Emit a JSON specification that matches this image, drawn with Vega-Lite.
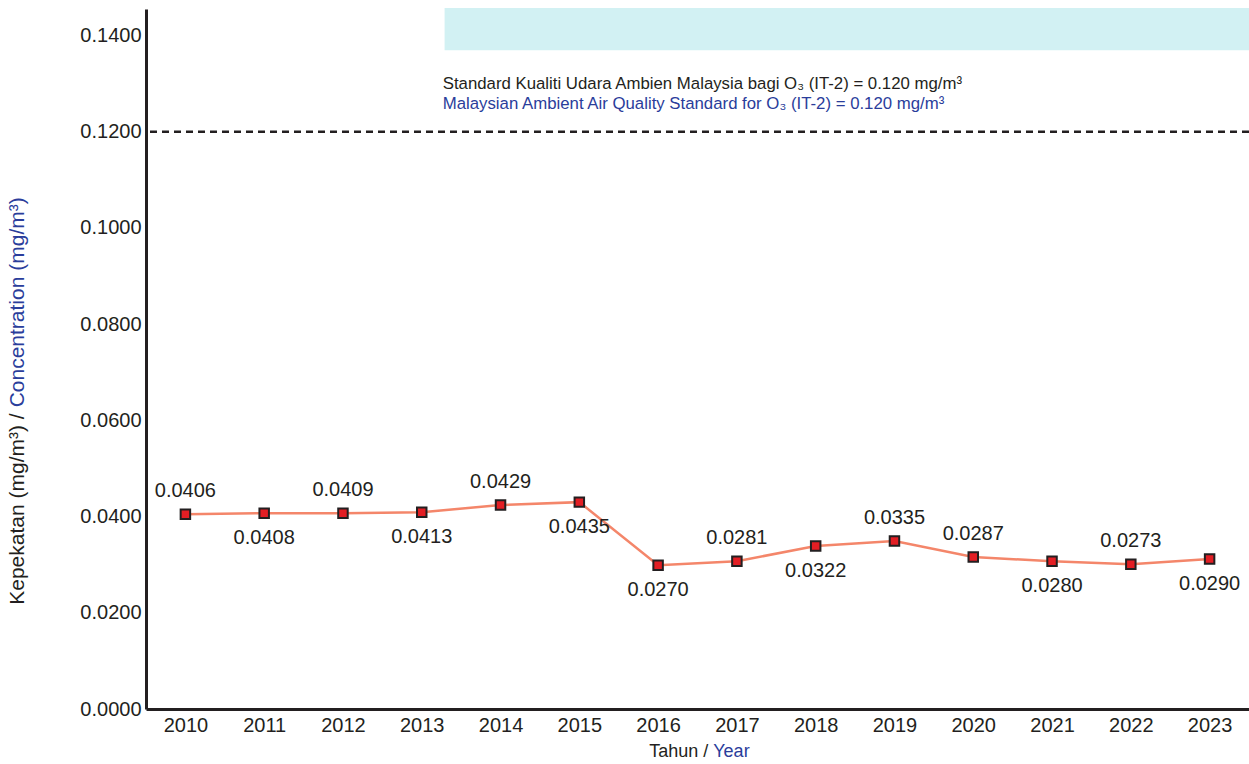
{
  "$schema": "https://vega.github.io/schema/vega-lite/v6.json",
  "width": 1103,
  "height": 700,
  "autosize": {"type": "none"},
  "padding": {"left": 146, "top": 9, "right": 0, "bottom": 55},
  "background": "white",
  "config": {"view": {"stroke": null}, "font": "Liberation Sans"},
  "datasets": {
    "series": [
      {"year": 2010, "value": 0.0405, "label": "0.0406", "side": "above"},
      {"year": 2011, "value": 0.0407, "label": "0.0408", "side": "below"},
      {"year": 2012, "value": 0.0407, "label": "0.0409", "side": "above"},
      {"year": 2013, "value": 0.0409, "label": "0.0413", "side": "below"},
      {"year": 2014, "value": 0.0424, "label": "0.0429", "side": "above"},
      {"year": 2015, "value": 0.0430, "label": "0.0435", "side": "below"},
      {"year": 2016, "value": 0.0299, "label": "0.0270", "side": "below"},
      {"year": 2017, "value": 0.0307, "label": "0.0281", "side": "above"},
      {"year": 2018, "value": 0.0339, "label": "0.0322", "side": "below"},
      {"year": 2019, "value": 0.0349, "label": "0.0335", "side": "above"},
      {"year": 2020, "value": 0.0316, "label": "0.0287", "side": "above"},
      {"year": 2021, "value": 0.0307, "label": "0.0280", "side": "below"},
      {"year": 2022, "value": 0.0301, "label": "0.0273", "side": "above"},
      {"year": 2023, "value": 0.0312, "label": "0.0290", "side": "below"}
    ]
  },
  "layer": [
    {
      "data": {"values": [{"year": 2013.29, "year2": 2023.5, "value": 0.1369, "value2": 0.1457}]},
      "mark": {"type": "rect", "color": "#d2f1f3"},
      "encoding": {
        "x": {"field": "year", "type": "quantitative", "scale": {"domain": [2009.5, 2023.5], "nice": false, "zero": false},
          "axis": {"values": [2010, 2011, 2012, 2013, 2014, 2015, 2016, 2017, 2018, 2019, 2020, 2021, 2022, 2023], "format": "d", "title": null, "grid": false, "ticks": false, "domainColor": "#231f20", "domainWidth": 3, "labelFontSize": 20, "labelColor": "#231f20", "labelPadding": 6, "labelFont": "Liberation Sans"}},
        "x2": {"field": "year2"},
        "y": {"field": "value", "type": "quantitative", "scale": {"domain": [0, 0.1455], "nice": false},
          "axis": {"values": [0, 0.02, 0.04, 0.06, 0.08, 0.1, 0.12, 0.14], "format": ".4f", "title": null, "grid": false, "ticks": false, "domainColor": "#231f20", "domainWidth": 3, "labelFontSize": 20, "labelColor": "#231f20", "labelPadding": 5, "labelFont": "Liberation Sans"}},
        "y2": {"field": "value2"}
      }
    },
    {
      "data": {"values": [{"value": 0.12}]},
      "mark": {"type": "rule", "color": "#231f20", "strokeWidth": 2.5, "strokeDash": [7, 5]},
      "encoding": {"y": {"field": "value", "type": "quantitative"}}
    },
    {
      "data": {"values": [{"year": 2013.266, "value": 0.1300, "t": "Standard Kualiti Udara Ambien Malaysia bagi O₃ (IT-2) = 0.120 mg/m³"}]},
      "mark": {"type": "text", "align": "left", "baseline": "middle", "fontSize": 16.8, "color": "#231f20"},
      "encoding": {
        "x": {"field": "year", "type": "quantitative"},
        "y": {"field": "value", "type": "quantitative"},
        "text": {"field": "t"}
      }
    },
    {
      "data": {"values": [{"year": 2013.266, "value": 0.1257, "t": "Malaysian Ambient Air Quality Standard for O₃ (IT-2) = 0.120 mg/m³"}]},
      "mark": {"type": "text", "align": "left", "baseline": "middle", "fontSize": 16.8, "color": "#2a3d9b"},
      "encoding": {
        "x": {"field": "year", "type": "quantitative"},
        "y": {"field": "value", "type": "quantitative"},
        "text": {"field": "t"}
      }
    },
    {
      "data": {"name": "series"},
      "mark": {"type": "line", "color": "#f4866a", "strokeWidth": 2.5},
      "encoding": {
        "x": {"field": "year", "type": "quantitative"},
        "y": {"field": "value", "type": "quantitative"}
      }
    },
    {
      "data": {"name": "series"},
      "mark": {"type": "point", "shape": "square", "filled": true, "fill": "#e31e24", "stroke": "#231f20", "strokeWidth": 2, "size": 90, "opacity": 1},
      "encoding": {
        "x": {"field": "year", "type": "quantitative"},
        "y": {"field": "value", "type": "quantitative"}
      }
    },
    {
      "data": {"name": "series"},
      "transform": [{"filter": "datum.side === 'above'"}],
      "mark": {"type": "text", "align": "center", "baseline": "middle", "fontSize": 20, "dy": -23, "color": "#231f20"},
      "encoding": {
        "x": {"field": "year", "type": "quantitative"},
        "y": {"field": "value", "type": "quantitative"},
        "text": {"field": "label"}
      }
    },
    {
      "data": {"name": "series"},
      "transform": [{"filter": "datum.side === 'below'"}],
      "mark": {"type": "text", "align": "center", "baseline": "middle", "fontSize": 20, "dy": 25, "color": "#231f20"},
      "encoding": {
        "x": {"field": "year", "type": "quantitative"},
        "y": {"field": "value", "type": "quantitative"},
        "text": {"field": "label"}
      }
    },
    {
      "data": {"values": [{"year": 2007.88, "value": 0.0627, "t": "Kepekatan (mg/m³) /"}]},
      "mark": {"type": "text", "align": "right", "baseline": "middle", "angle": 270, "fontSize": 21, "dx": -6, "color": "#231f20"},
      "encoding": {
        "x": {"field": "year", "type": "quantitative"},
        "y": {"field": "value", "type": "quantitative"},
        "text": {"field": "t"}
      }
    },
    {
      "data": {"values": [{"year": 2007.88, "value": 0.0627, "t": "Concentration (mg/m³)"}]},
      "mark": {"type": "text", "align": "left", "baseline": "middle", "angle": 270, "fontSize": 21, "color": "#2a3d9b"},
      "encoding": {
        "x": {"field": "year", "type": "quantitative"},
        "y": {"field": "value", "type": "quantitative"},
        "text": {"field": "t"}
      }
    },
    {
      "data": {"values": [{"year": 2016.70, "value": -0.00893, "t": "Tahun /"}]},
      "mark": {"type": "text", "align": "right", "baseline": "middle", "fontSize": 18, "dx": -5, "color": "#231f20"},
      "encoding": {
        "x": {"field": "year", "type": "quantitative"},
        "y": {"field": "value", "type": "quantitative"},
        "text": {"field": "t"}
      }
    },
    {
      "data": {"values": [{"year": 2016.70, "value": -0.00893, "t": "Year"}]},
      "mark": {"type": "text", "align": "left", "baseline": "middle", "fontSize": 18, "color": "#2a3d9b"},
      "encoding": {
        "x": {"field": "year", "type": "quantitative"},
        "y": {"field": "value", "type": "quantitative"},
        "text": {"field": "t"}
      }
    }
  ]
}
